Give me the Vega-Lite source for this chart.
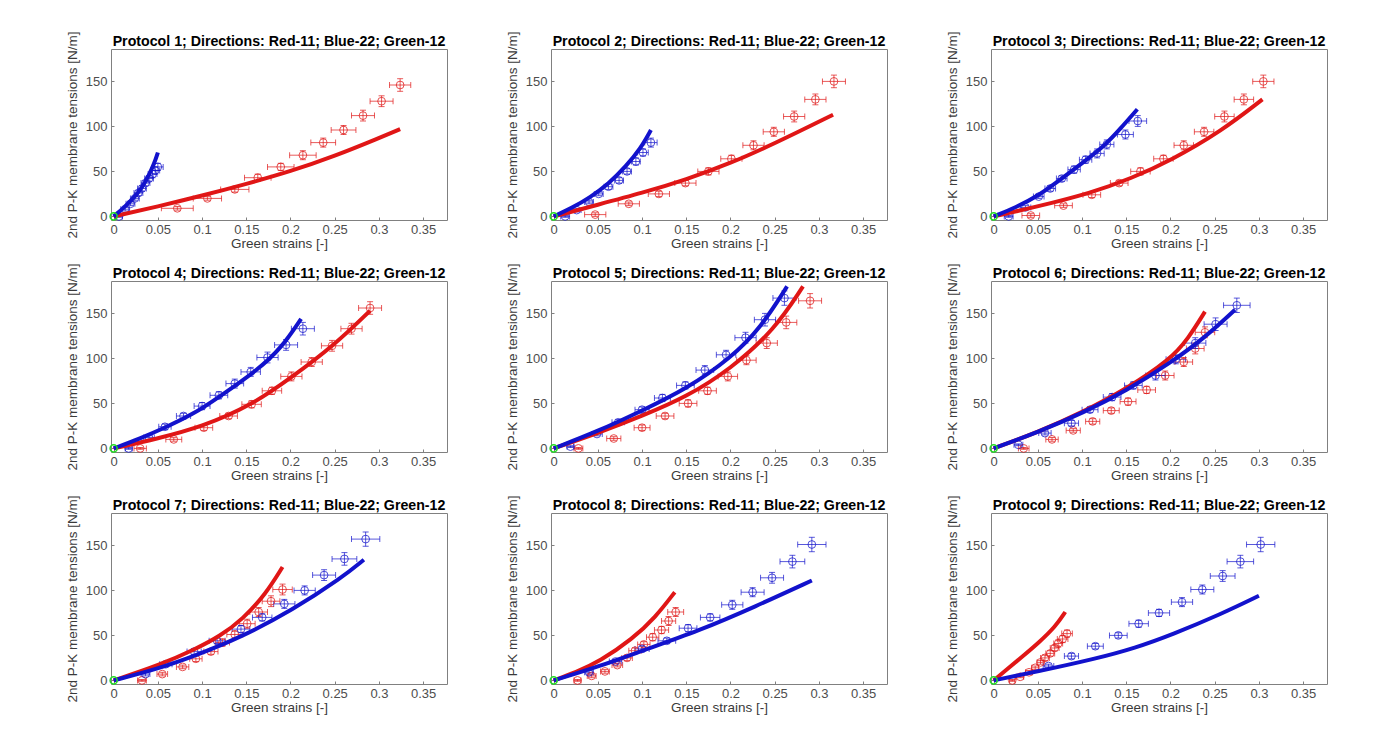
{
  "$schema": "https://vega.github.io/schema/vega-lite/v6.json",
  "background": "white",
  "padding": {"left": 64, "top": 30, "right": 5, "bottom": 5},
  "data": {"values": [
    {"p":1,"k":"pt","d":"11","x":0.072,"y":9,"ex":0.018,"ey":2},
    {"p":1,"k":"pt","d":"11","x":0.106,"y":20,"ex":0.016,"ey":2},
    {"p":1,"k":"pt","d":"11","x":0.137,"y":30,"ex":0.016,"ey":3},
    {"p":1,"k":"pt","d":"11","x":0.163,"y":43,"ex":0.015,"ey":4},
    {"p":1,"k":"pt","d":"11","x":0.189,"y":55,"ex":0.015,"ey":4},
    {"p":1,"k":"pt","d":"11","x":0.214,"y":68,"ex":0.015,"ey":5},
    {"p":1,"k":"pt","d":"11","x":0.237,"y":82,"ex":0.014,"ey":5},
    {"p":1,"k":"pt","d":"11","x":0.260,"y":96,"ex":0.014,"ey":5},
    {"p":1,"k":"pt","d":"11","x":0.282,"y":112,"ex":0.013,"ey":6},
    {"p":1,"k":"pt","d":"11","x":0.303,"y":128,"ex":0.013,"ey":6},
    {"p":1,"k":"pt","d":"11","x":0.324,"y":146,"ex":0.012,"ey":7},
    {"p":1,"k":"pt","d":"22","x":0.006,"y":0,"ex":0.004,"ey":1},
    {"p":1,"k":"pt","d":"22","x":0.013,"y":8,"ex":0.005,"ey":2},
    {"p":1,"k":"pt","d":"22","x":0.019,"y":14,"ex":0.005,"ey":2},
    {"p":1,"k":"pt","d":"22","x":0.024,"y":20,"ex":0.005,"ey":2},
    {"p":1,"k":"pt","d":"22","x":0.028,"y":26,"ex":0.005,"ey":3},
    {"p":1,"k":"pt","d":"22","x":0.032,"y":31,"ex":0.005,"ey":3},
    {"p":1,"k":"pt","d":"22","x":0.036,"y":37,"ex":0.005,"ey":3},
    {"p":1,"k":"pt","d":"22","x":0.040,"y":42,"ex":0.005,"ey":3},
    {"p":1,"k":"pt","d":"22","x":0.044,"y":47,"ex":0.005,"ey":4},
    {"p":1,"k":"pt","d":"22","x":0.047,"y":51,"ex":0.005,"ey":4},
    {"p":1,"k":"pt","d":"22","x":0.050,"y":55,"ex":0.006,"ey":4},
    {"p":1,"k":"fit","d":"11","x":0,"y":0},
    {"p":1,"k":"fit","d":"11","x":0.05,"y":11},
    {"p":1,"k":"fit","d":"11","x":0.1,"y":23},
    {"p":1,"k":"fit","d":"11","x":0.15,"y":36},
    {"p":1,"k":"fit","d":"11","x":0.2,"y":50},
    {"p":1,"k":"fit","d":"11","x":0.25,"y":67},
    {"p":1,"k":"fit","d":"11","x":0.3,"y":87},
    {"p":1,"k":"fit","d":"11","x":0.324,"y":97},
    {"p":1,"k":"fit","d":"22","x":0,"y":0},
    {"p":1,"k":"fit","d":"22","x":0.012,"y":10},
    {"p":1,"k":"fit","d":"22","x":0.024,"y":22},
    {"p":1,"k":"fit","d":"22","x":0.032,"y":32},
    {"p":1,"k":"fit","d":"22","x":0.039,"y":44},
    {"p":1,"k":"fit","d":"22","x":0.046,"y":59},
    {"p":1,"k":"fit","d":"22","x":0.050,"y":71},
    {"p":1,"k":"org","d":"12","x":0,"y":0},

    {"p":2,"k":"pt","d":"11","x":0.047,"y":2,"ex":0.012,"ey":2},
    {"p":2,"k":"pt","d":"11","x":0.085,"y":14,"ex":0.012,"ey":2},
    {"p":2,"k":"pt","d":"11","x":0.119,"y":25,"ex":0.012,"ey":3},
    {"p":2,"k":"pt","d":"11","x":0.149,"y":37,"ex":0.012,"ey":3},
    {"p":2,"k":"pt","d":"11","x":0.175,"y":50,"ex":0.012,"ey":4},
    {"p":2,"k":"pt","d":"11","x":0.201,"y":64,"ex":0.012,"ey":4},
    {"p":2,"k":"pt","d":"11","x":0.226,"y":79,"ex":0.012,"ey":5},
    {"p":2,"k":"pt","d":"11","x":0.249,"y":94,"ex":0.012,"ey":5},
    {"p":2,"k":"pt","d":"11","x":0.272,"y":111,"ex":0.012,"ey":6},
    {"p":2,"k":"pt","d":"11","x":0.296,"y":130,"ex":0.012,"ey":6},
    {"p":2,"k":"pt","d":"11","x":0.317,"y":150,"ex":0.013,"ey":7},
    {"p":2,"k":"pt","d":"22","x":0.013,"y":0,"ex":0.005,"ey":1},
    {"p":2,"k":"pt","d":"22","x":0.026,"y":7,"ex":0.005,"ey":2},
    {"p":2,"k":"pt","d":"22","x":0.040,"y":16,"ex":0.005,"ey":2},
    {"p":2,"k":"pt","d":"22","x":0.051,"y":25,"ex":0.005,"ey":2},
    {"p":2,"k":"pt","d":"22","x":0.062,"y":33,"ex":0.005,"ey":3},
    {"p":2,"k":"pt","d":"22","x":0.074,"y":40,"ex":0.005,"ey":3},
    {"p":2,"k":"pt","d":"22","x":0.083,"y":50,"ex":0.005,"ey":3},
    {"p":2,"k":"pt","d":"22","x":0.093,"y":61,"ex":0.005,"ey":4},
    {"p":2,"k":"pt","d":"22","x":0.101,"y":71,"ex":0.006,"ey":4},
    {"p":2,"k":"pt","d":"22","x":0.110,"y":82,"ex":0.007,"ey":5},
    {"p":2,"k":"fit","d":"11","x":0,"y":0},
    {"p":2,"k":"fit","d":"11","x":0.05,"y":13},
    {"p":2,"k":"fit","d":"11","x":0.1,"y":26},
    {"p":2,"k":"fit","d":"11","x":0.15,"y":41},
    {"p":2,"k":"fit","d":"11","x":0.2,"y":59},
    {"p":2,"k":"fit","d":"11","x":0.25,"y":81},
    {"p":2,"k":"fit","d":"11","x":0.316,"y":113},
    {"p":2,"k":"fit","d":"22","x":0,"y":0},
    {"p":2,"k":"fit","d":"22","x":0.02,"y":9},
    {"p":2,"k":"fit","d":"22","x":0.041,"y":21},
    {"p":2,"k":"fit","d":"22","x":0.062,"y":36},
    {"p":2,"k":"fit","d":"22","x":0.082,"y":56},
    {"p":2,"k":"fit","d":"22","x":0.098,"y":75},
    {"p":2,"k":"fit","d":"22","x":0.110,"y":96},
    {"p":2,"k":"org","d":"12","x":0,"y":0},

    {"p":3,"k":"pt","d":"11","x":0.042,"y":1,"ex":0.010,"ey":2},
    {"p":3,"k":"pt","d":"11","x":0.079,"y":12,"ex":0.010,"ey":2},
    {"p":3,"k":"pt","d":"11","x":0.111,"y":24,"ex":0.010,"ey":3},
    {"p":3,"k":"pt","d":"11","x":0.142,"y":37,"ex":0.010,"ey":3},
    {"p":3,"k":"pt","d":"11","x":0.166,"y":50,"ex":0.011,"ey":4},
    {"p":3,"k":"pt","d":"11","x":0.192,"y":64,"ex":0.011,"ey":4},
    {"p":3,"k":"pt","d":"11","x":0.215,"y":79,"ex":0.011,"ey":5},
    {"p":3,"k":"pt","d":"11","x":0.238,"y":94,"ex":0.011,"ey":5},
    {"p":3,"k":"pt","d":"11","x":0.261,"y":111,"ex":0.011,"ey":6},
    {"p":3,"k":"pt","d":"11","x":0.283,"y":130,"ex":0.011,"ey":6},
    {"p":3,"k":"pt","d":"11","x":0.305,"y":150,"ex":0.012,"ey":7},
    {"p":3,"k":"pt","d":"22","x":0.017,"y":0,"ex":0.005,"ey":1},
    {"p":3,"k":"pt","d":"22","x":0.036,"y":10,"ex":0.006,"ey":2},
    {"p":3,"k":"pt","d":"22","x":0.051,"y":22,"ex":0.006,"ey":2},
    {"p":3,"k":"pt","d":"22","x":0.064,"y":31,"ex":0.006,"ey":3},
    {"p":3,"k":"pt","d":"22","x":0.077,"y":42,"ex":0.006,"ey":3},
    {"p":3,"k":"pt","d":"22","x":0.091,"y":52,"ex":0.007,"ey":4},
    {"p":3,"k":"pt","d":"22","x":0.104,"y":63,"ex":0.007,"ey":4},
    {"p":3,"k":"pt","d":"22","x":0.117,"y":70,"ex":0.008,"ey":5},
    {"p":3,"k":"pt","d":"22","x":0.128,"y":80,"ex":0.008,"ey":5},
    {"p":3,"k":"pt","d":"22","x":0.149,"y":91,"ex":0.009,"ey":5},
    {"p":3,"k":"pt","d":"22","x":0.163,"y":106,"ex":0.010,"ey":6},
    {"p":3,"k":"fit","d":"11","x":0,"y":0},
    {"p":3,"k":"fit","d":"11","x":0.05,"y":11},
    {"p":3,"k":"fit","d":"11","x":0.11,"y":26},
    {"p":3,"k":"fit","d":"11","x":0.155,"y":42},
    {"p":3,"k":"fit","d":"11","x":0.2,"y":62},
    {"p":3,"k":"fit","d":"11","x":0.258,"y":95},
    {"p":3,"k":"fit","d":"11","x":0.304,"y":130},
    {"p":3,"k":"fit","d":"22","x":0,"y":0},
    {"p":3,"k":"fit","d":"22","x":0.025,"y":10},
    {"p":3,"k":"fit","d":"22","x":0.051,"y":23},
    {"p":3,"k":"fit","d":"22","x":0.077,"y":42},
    {"p":3,"k":"fit","d":"22","x":0.104,"y":62},
    {"p":3,"k":"fit","d":"22","x":0.127,"y":80},
    {"p":3,"k":"fit","d":"22","x":0.142,"y":96},
    {"p":3,"k":"fit","d":"22","x":0.1625,"y":119},
    {"p":3,"k":"org","d":"12","x":0,"y":0},

    {"p":4,"k":"pt","d":"11","x":0.030,"y":0,"ex":0.007,"ey":1},
    {"p":4,"k":"pt","d":"11","x":0.068,"y":10,"ex":0.009,"ey":2},
    {"p":4,"k":"pt","d":"11","x":0.102,"y":23,"ex":0.010,"ey":3},
    {"p":4,"k":"pt","d":"11","x":0.130,"y":36,"ex":0.010,"ey":3},
    {"p":4,"k":"pt","d":"11","x":0.156,"y":49,"ex":0.011,"ey":4},
    {"p":4,"k":"pt","d":"11","x":0.179,"y":64,"ex":0.011,"ey":4},
    {"p":4,"k":"pt","d":"11","x":0.201,"y":80,"ex":0.012,"ey":5},
    {"p":4,"k":"pt","d":"11","x":0.224,"y":96,"ex":0.012,"ey":5},
    {"p":4,"k":"pt","d":"11","x":0.247,"y":114,"ex":0.012,"ey":6},
    {"p":4,"k":"pt","d":"11","x":0.269,"y":133,"ex":0.012,"ey":6},
    {"p":4,"k":"pt","d":"11","x":0.290,"y":156,"ex":0.013,"ey":7},
    {"p":4,"k":"pt","d":"22","x":0.017,"y":0,"ex":0.004,"ey":1},
    {"p":4,"k":"pt","d":"22","x":0.040,"y":12,"ex":0.006,"ey":2},
    {"p":4,"k":"pt","d":"22","x":0.058,"y":24,"ex":0.007,"ey":3},
    {"p":4,"k":"pt","d":"22","x":0.079,"y":36,"ex":0.008,"ey":3},
    {"p":4,"k":"pt","d":"22","x":0.100,"y":47,"ex":0.009,"ey":4},
    {"p":4,"k":"pt","d":"22","x":0.119,"y":59,"ex":0.010,"ey":4},
    {"p":4,"k":"pt","d":"22","x":0.137,"y":72,"ex":0.010,"ey":5},
    {"p":4,"k":"pt","d":"22","x":0.155,"y":85,"ex":0.011,"ey":5},
    {"p":4,"k":"pt","d":"22","x":0.174,"y":101,"ex":0.012,"ey":6},
    {"p":4,"k":"pt","d":"22","x":0.195,"y":115,"ex":0.013,"ey":6},
    {"p":4,"k":"pt","d":"22","x":0.214,"y":133,"ex":0.013,"ey":7},
    {"p":4,"k":"fit","d":"11","x":0,"y":0},
    {"p":4,"k":"fit","d":"11","x":0.05,"y":11},
    {"p":4,"k":"fit","d":"11","x":0.1,"y":24},
    {"p":4,"k":"fit","d":"11","x":0.156,"y":48},
    {"p":4,"k":"fit","d":"11","x":0.2,"y":78},
    {"p":4,"k":"fit","d":"11","x":0.25,"y":115},
    {"p":4,"k":"fit","d":"11","x":0.29,"y":153},
    {"p":4,"k":"fit","d":"22","x":0,"y":0},
    {"p":4,"k":"fit","d":"22","x":0.03,"y":11},
    {"p":4,"k":"fit","d":"22","x":0.058,"y":23},
    {"p":4,"k":"fit","d":"22","x":0.09,"y":38},
    {"p":4,"k":"fit","d":"22","x":0.119,"y":57},
    {"p":4,"k":"fit","d":"22","x":0.164,"y":88},
    {"p":4,"k":"fit","d":"22","x":0.19,"y":112},
    {"p":4,"k":"fit","d":"22","x":0.212,"y":144},
    {"p":4,"k":"org","d":"12","x":0,"y":0},

    {"p":5,"k":"pt","d":"11","x":0.028,"y":0,"ex":0.005,"ey":1},
    {"p":5,"k":"pt","d":"11","x":0.068,"y":11,"ex":0.008,"ey":2},
    {"p":5,"k":"pt","d":"11","x":0.100,"y":23,"ex":0.009,"ey":3},
    {"p":5,"k":"pt","d":"11","x":0.126,"y":36,"ex":0.010,"ey":3},
    {"p":5,"k":"pt","d":"11","x":0.152,"y":50,"ex":0.010,"ey":4},
    {"p":5,"k":"pt","d":"11","x":0.174,"y":64,"ex":0.010,"ey":4},
    {"p":5,"k":"pt","d":"11","x":0.197,"y":80,"ex":0.011,"ey":5},
    {"p":5,"k":"pt","d":"11","x":0.218,"y":98,"ex":0.011,"ey":5},
    {"p":5,"k":"pt","d":"11","x":0.241,"y":117,"ex":0.012,"ey":6},
    {"p":5,"k":"pt","d":"11","x":0.263,"y":140,"ex":0.012,"ey":7},
    {"p":5,"k":"pt","d":"11","x":0.290,"y":164,"ex":0.013,"ey":8},
    {"p":5,"k":"pt","d":"22","x":0.019,"y":2,"ex":0.004,"ey":1},
    {"p":5,"k":"pt","d":"22","x":0.049,"y":16,"ex":0.006,"ey":2},
    {"p":5,"k":"pt","d":"22","x":0.073,"y":29,"ex":0.007,"ey":3},
    {"p":5,"k":"pt","d":"22","x":0.100,"y":43,"ex":0.008,"ey":3},
    {"p":5,"k":"pt","d":"22","x":0.123,"y":56,"ex":0.009,"ey":4},
    {"p":5,"k":"pt","d":"22","x":0.149,"y":70,"ex":0.010,"ey":4},
    {"p":5,"k":"pt","d":"22","x":0.171,"y":87,"ex":0.010,"ey":5},
    {"p":5,"k":"pt","d":"22","x":0.195,"y":104,"ex":0.011,"ey":5},
    {"p":5,"k":"pt","d":"22","x":0.217,"y":123,"ex":0.012,"ey":6},
    {"p":5,"k":"pt","d":"22","x":0.239,"y":143,"ex":0.012,"ey":7},
    {"p":5,"k":"pt","d":"22","x":0.261,"y":167,"ex":0.013,"ey":8},
    {"p":5,"k":"fit","d":"11","x":0,"y":0},
    {"p":5,"k":"fit","d":"11","x":0.05,"y":17},
    {"p":5,"k":"fit","d":"11","x":0.1,"y":36},
    {"p":5,"k":"fit","d":"11","x":0.15,"y":57},
    {"p":5,"k":"fit","d":"11","x":0.2,"y":88},
    {"p":5,"k":"fit","d":"11","x":0.25,"y":132},
    {"p":5,"k":"fit","d":"11","x":0.282,"y":180},
    {"p":5,"k":"fit","d":"22","x":0,"y":0},
    {"p":5,"k":"fit","d":"22","x":0.05,"y":19},
    {"p":5,"k":"fit","d":"22","x":0.1,"y":42},
    {"p":5,"k":"fit","d":"22","x":0.15,"y":66},
    {"p":5,"k":"fit","d":"22","x":0.2,"y":100},
    {"p":5,"k":"fit","d":"22","x":0.235,"y":135},
    {"p":5,"k":"fit","d":"22","x":0.264,"y":180},
    {"p":5,"k":"org","d":"12","x":0,"y":0},

    {"p":6,"k":"pt","d":"11","x":0.034,"y":0,"ex":0.006,"ey":1},
    {"p":6,"k":"pt","d":"11","x":0.066,"y":10,"ex":0.007,"ey":2},
    {"p":6,"k":"pt","d":"11","x":0.090,"y":20,"ex":0.008,"ey":2},
    {"p":6,"k":"pt","d":"11","x":0.112,"y":30,"ex":0.008,"ey":3},
    {"p":6,"k":"pt","d":"11","x":0.133,"y":42,"ex":0.009,"ey":3},
    {"p":6,"k":"pt","d":"11","x":0.152,"y":52,"ex":0.009,"ey":4},
    {"p":6,"k":"pt","d":"11","x":0.173,"y":65,"ex":0.010,"ey":4},
    {"p":6,"k":"pt","d":"11","x":0.194,"y":81,"ex":0.010,"ey":5},
    {"p":6,"k":"pt","d":"11","x":0.215,"y":96,"ex":0.010,"ey":5},
    {"p":6,"k":"pt","d":"11","x":0.228,"y":111,"ex":0.010,"ey":6},
    {"p":6,"k":"pt","d":"11","x":0.239,"y":129,"ex":0.011,"ey":6},
    {"p":6,"k":"pt","d":"22","x":0.028,"y":4,"ex":0.005,"ey":1},
    {"p":6,"k":"pt","d":"22","x":0.058,"y":17,"ex":0.007,"ey":2},
    {"p":6,"k":"pt","d":"22","x":0.088,"y":28,"ex":0.008,"ey":3},
    {"p":6,"k":"pt","d":"22","x":0.109,"y":43,"ex":0.009,"ey":3},
    {"p":6,"k":"pt","d":"22","x":0.134,"y":57,"ex":0.010,"ey":4},
    {"p":6,"k":"pt","d":"22","x":0.158,"y":70,"ex":0.010,"ey":4},
    {"p":6,"k":"pt","d":"22","x":0.183,"y":81,"ex":0.011,"ey":5},
    {"p":6,"k":"pt","d":"22","x":0.206,"y":99,"ex":0.011,"ey":5},
    {"p":6,"k":"pt","d":"22","x":0.228,"y":117,"ex":0.012,"ey":6},
    {"p":6,"k":"pt","d":"22","x":0.251,"y":138,"ex":0.013,"ey":7},
    {"p":6,"k":"pt","d":"22","x":0.275,"y":159,"ex":0.015,"ey":8},
    {"p":6,"k":"fit","d":"11","x":0,"y":0},
    {"p":6,"k":"fit","d":"11","x":0.05,"y":18},
    {"p":6,"k":"fit","d":"11","x":0.1,"y":40},
    {"p":6,"k":"fit","d":"11","x":0.15,"y":66},
    {"p":6,"k":"fit","d":"11","x":0.2,"y":99},
    {"p":6,"k":"fit","d":"11","x":0.22,"y":122},
    {"p":6,"k":"fit","d":"11","x":0.239,"y":152},
    {"p":6,"k":"fit","d":"22","x":0,"y":0},
    {"p":6,"k":"fit","d":"22","x":0.05,"y":18},
    {"p":6,"k":"fit","d":"22","x":0.102,"y":40},
    {"p":6,"k":"fit","d":"22","x":0.15,"y":64},
    {"p":6,"k":"fit","d":"22","x":0.2,"y":95},
    {"p":6,"k":"fit","d":"22","x":0.24,"y":124},
    {"p":6,"k":"fit","d":"22","x":0.273,"y":154},
    {"p":6,"k":"org","d":"12","x":0,"y":0},

    {"p":7,"k":"pt","d":"11","x":0.032,"y":0,"ex":0.005,"ey":1},
    {"p":7,"k":"pt","d":"11","x":0.055,"y":7,"ex":0.006,"ey":2},
    {"p":7,"k":"pt","d":"11","x":0.078,"y":15,"ex":0.007,"ey":2},
    {"p":7,"k":"pt","d":"11","x":0.093,"y":24,"ex":0.007,"ey":3},
    {"p":7,"k":"pt","d":"11","x":0.110,"y":32,"ex":0.008,"ey":3},
    {"p":7,"k":"pt","d":"11","x":0.123,"y":42,"ex":0.008,"ey":4},
    {"p":7,"k":"pt","d":"11","x":0.137,"y":51,"ex":0.009,"ey":4},
    {"p":7,"k":"pt","d":"11","x":0.151,"y":63,"ex":0.009,"ey":5},
    {"p":7,"k":"pt","d":"11","x":0.164,"y":76,"ex":0.010,"ey":5},
    {"p":7,"k":"pt","d":"11","x":0.178,"y":88,"ex":0.010,"ey":6},
    {"p":7,"k":"pt","d":"11","x":0.191,"y":101,"ex":0.011,"ey":6},
    {"p":7,"k":"pt","d":"22","x":0.036,"y":7,"ex":0.005,"ey":2},
    {"p":7,"k":"pt","d":"22","x":0.059,"y":18,"ex":0.007,"ey":2},
    {"p":7,"k":"pt","d":"22","x":0.091,"y":32,"ex":0.008,"ey":3},
    {"p":7,"k":"pt","d":"22","x":0.117,"y":44,"ex":0.009,"ey":3},
    {"p":7,"k":"pt","d":"22","x":0.144,"y":57,"ex":0.010,"ey":4},
    {"p":7,"k":"pt","d":"22","x":0.168,"y":70,"ex":0.011,"ey":4},
    {"p":7,"k":"pt","d":"22","x":0.193,"y":85,"ex":0.012,"ey":5},
    {"p":7,"k":"pt","d":"22","x":0.216,"y":100,"ex":0.012,"ey":5},
    {"p":7,"k":"pt","d":"22","x":0.238,"y":117,"ex":0.013,"ey":6},
    {"p":7,"k":"pt","d":"22","x":0.261,"y":135,"ex":0.014,"ey":7},
    {"p":7,"k":"pt","d":"22","x":0.285,"y":157,"ex":0.016,"ey":8},
    {"p":7,"k":"fit","d":"11","x":0,"y":0},
    {"p":7,"k":"fit","d":"11","x":0.052,"y":17},
    {"p":7,"k":"fit","d":"11","x":0.093,"y":35},
    {"p":7,"k":"fit","d":"11","x":0.12,"y":49},
    {"p":7,"k":"fit","d":"11","x":0.146,"y":68},
    {"p":7,"k":"fit","d":"11","x":0.172,"y":96},
    {"p":7,"k":"fit","d":"11","x":0.191,"y":126},
    {"p":7,"k":"fit","d":"22","x":0,"y":0},
    {"p":7,"k":"fit","d":"22","x":0.05,"y":13},
    {"p":7,"k":"fit","d":"22","x":0.091,"y":27},
    {"p":7,"k":"fit","d":"22","x":0.144,"y":48},
    {"p":7,"k":"fit","d":"22","x":0.202,"y":78},
    {"p":7,"k":"fit","d":"22","x":0.258,"y":114},
    {"p":7,"k":"fit","d":"22","x":0.283,"y":134},
    {"p":7,"k":"org","d":"12","x":0,"y":0},

    {"p":8,"k":"pt","d":"11","x":0.027,"y":0,"ex":0.004,"ey":1},
    {"p":8,"k":"pt","d":"11","x":0.043,"y":5,"ex":0.005,"ey":2},
    {"p":8,"k":"pt","d":"11","x":0.058,"y":10,"ex":0.005,"ey":2},
    {"p":8,"k":"pt","d":"11","x":0.072,"y":17,"ex":0.006,"ey":2},
    {"p":8,"k":"pt","d":"11","x":0.083,"y":25,"ex":0.006,"ey":3},
    {"p":8,"k":"pt","d":"11","x":0.092,"y":33,"ex":0.007,"ey":3},
    {"p":8,"k":"pt","d":"11","x":0.102,"y":40,"ex":0.007,"ey":3},
    {"p":8,"k":"pt","d":"11","x":0.112,"y":48,"ex":0.007,"ey":4},
    {"p":8,"k":"pt","d":"11","x":0.122,"y":56,"ex":0.008,"ey":4},
    {"p":8,"k":"pt","d":"11","x":0.130,"y":66,"ex":0.008,"ey":5},
    {"p":8,"k":"pt","d":"11","x":0.138,"y":76,"ex":0.009,"ey":5},
    {"p":8,"k":"pt","d":"22","x":0.040,"y":9,"ex":0.005,"ey":2},
    {"p":8,"k":"pt","d":"22","x":0.070,"y":21,"ex":0.007,"ey":2},
    {"p":8,"k":"pt","d":"22","x":0.100,"y":35,"ex":0.008,"ey":3},
    {"p":8,"k":"pt","d":"22","x":0.128,"y":44,"ex":0.010,"ey":3},
    {"p":8,"k":"pt","d":"22","x":0.152,"y":58,"ex":0.010,"ey":4},
    {"p":8,"k":"pt","d":"22","x":0.177,"y":70,"ex":0.011,"ey":4},
    {"p":8,"k":"pt","d":"22","x":0.202,"y":84,"ex":0.012,"ey":5},
    {"p":8,"k":"pt","d":"22","x":0.225,"y":98,"ex":0.013,"ey":5},
    {"p":8,"k":"pt","d":"22","x":0.247,"y":114,"ex":0.013,"ey":6},
    {"p":8,"k":"pt","d":"22","x":0.270,"y":132,"ex":0.014,"ey":7},
    {"p":8,"k":"pt","d":"22","x":0.292,"y":151,"ex":0.016,"ey":8},
    {"p":8,"k":"fit","d":"11","x":0,"y":0},
    {"p":8,"k":"fit","d":"11","x":0.025,"y":9},
    {"p":8,"k":"fit","d":"11","x":0.052,"y":21},
    {"p":8,"k":"fit","d":"11","x":0.089,"y":46},
    {"p":8,"k":"fit","d":"11","x":0.115,"y":70},
    {"p":8,"k":"fit","d":"11","x":0.137,"y":98},
    {"p":8,"k":"fit","d":"22","x":0,"y":0},
    {"p":8,"k":"fit","d":"22","x":0.05,"y":15},
    {"p":8,"k":"fit","d":"22","x":0.1,"y":33},
    {"p":8,"k":"fit","d":"22","x":0.164,"y":55},
    {"p":8,"k":"fit","d":"22","x":0.228,"y":82},
    {"p":8,"k":"fit","d":"22","x":0.292,"y":111},
    {"p":8,"k":"org","d":"12","x":0,"y":0},

    {"p":9,"k":"pt","d":"11","x":0.021,"y":0,"ex":0.003,"ey":1},
    {"p":9,"k":"pt","d":"11","x":0.030,"y":4,"ex":0.004,"ey":1},
    {"p":9,"k":"pt","d":"11","x":0.040,"y":9,"ex":0.004,"ey":2},
    {"p":9,"k":"pt","d":"11","x":0.047,"y":14,"ex":0.004,"ey":2},
    {"p":9,"k":"pt","d":"11","x":0.053,"y":20,"ex":0.004,"ey":2},
    {"p":9,"k":"pt","d":"11","x":0.058,"y":25,"ex":0.005,"ey":3},
    {"p":9,"k":"pt","d":"11","x":0.064,"y":30,"ex":0.005,"ey":3},
    {"p":9,"k":"pt","d":"11","x":0.069,"y":36,"ex":0.005,"ey":3},
    {"p":9,"k":"pt","d":"11","x":0.073,"y":41,"ex":0.005,"ey":4},
    {"p":9,"k":"pt","d":"11","x":0.078,"y":46,"ex":0.006,"ey":4},
    {"p":9,"k":"pt","d":"11","x":0.083,"y":52,"ex":0.006,"ey":4},
    {"p":9,"k":"pt","d":"22","x":0.062,"y":16,"ex":0.006,"ey":2},
    {"p":9,"k":"pt","d":"22","x":0.088,"y":27,"ex":0.008,"ey":3},
    {"p":9,"k":"pt","d":"22","x":0.115,"y":38,"ex":0.009,"ey":3},
    {"p":9,"k":"pt","d":"22","x":0.141,"y":50,"ex":0.010,"ey":3},
    {"p":9,"k":"pt","d":"22","x":0.164,"y":63,"ex":0.011,"ey":4},
    {"p":9,"k":"pt","d":"22","x":0.187,"y":75,"ex":0.012,"ey":4},
    {"p":9,"k":"pt","d":"22","x":0.213,"y":87,"ex":0.012,"ey":5},
    {"p":9,"k":"pt","d":"22","x":0.236,"y":101,"ex":0.013,"ey":5},
    {"p":9,"k":"pt","d":"22","x":0.259,"y":116,"ex":0.014,"ey":6},
    {"p":9,"k":"pt","d":"22","x":0.279,"y":132,"ex":0.015,"ey":7},
    {"p":9,"k":"pt","d":"22","x":0.302,"y":151,"ex":0.016,"ey":8},
    {"p":9,"k":"fit","d":"11","x":0,"y":0},
    {"p":9,"k":"fit","d":"11","x":0.016,"y":13},
    {"p":9,"k":"fit","d":"11","x":0.033,"y":27},
    {"p":9,"k":"fit","d":"11","x":0.051,"y":42},
    {"p":9,"k":"fit","d":"11","x":0.070,"y":60},
    {"p":9,"k":"fit","d":"11","x":0.081,"y":76},
    {"p":9,"k":"fit","d":"22","x":0,"y":0},
    {"p":9,"k":"fit","d":"22","x":0.05,"y":10},
    {"p":9,"k":"fit","d":"22","x":0.115,"y":24},
    {"p":9,"k":"fit","d":"22","x":0.16,"y":36},
    {"p":9,"k":"fit","d":"22","x":0.202,"y":51},
    {"p":9,"k":"fit","d":"22","x":0.258,"y":74},
    {"p":9,"k":"fit","d":"22","x":0.300,"y":94},
    {"p":9,"k":"org","d":"12","x":0,"y":0}
  ]},
  "columns": 3,
  "bounds": "flush",
  "spacing": {"row": 61, "column": 104},
  "facet": {
    "field": "p",
    "type": "ordinal",
    "header": {
      "title": null,
      "labelExpr": "'Protocol ' + datum.value + '; Directions: Red-11; Blue-22; Green-12'",
      "labelFont": "Liberation Sans",
      "labelFontSize": 14.2,
      "labelFontWeight": "bold",
      "labelColor": "#000000",
      "labelPadding": -18
    }
  },
  "resolve": {"axis": {"x": "independent", "y": "independent"}},
  "spec": {
    "width": 336,
    "height": 171,
    "encoding": {
      "x": {
        "field": "x",
        "type": "quantitative",
        "scale": {"domain": [-0.003, 0.377], "nice": false, "zero": false},
        "axis": {"title": "Green strains [-]", "values": [0, 0.05, 0.1, 0.15, 0.2, 0.25, 0.3, 0.35], "format": "~g"}
      },
      "y": {
        "field": "y",
        "type": "quantitative",
        "scale": {"domain": [-4, 186], "nice": false, "zero": false},
        "axis": {"title": "2nd P-K membrane tensions [N/m]", "values": [0, 50, 100, 150]}
      },
      "color": {
        "field": "d",
        "type": "nominal",
        "scale": {"domain": ["11", "22", "12"], "range": ["#e01616", "#1212cc", "#22dd22"]},
        "legend": null
      }
    },
    "layer": [
      {
        "transform": [{"filter": "datum.k === 'pt'"}],
        "mark": {"type": "errorbar", "ticks": {"size": 6}, "thickness": 1, "opacity": 0.7},
        "encoding": {"xError": {"field": "ex"}}
      },
      {
        "transform": [{"filter": "datum.k === 'pt'"}],
        "mark": {"type": "errorbar", "ticks": {"size": 6}, "thickness": 1, "opacity": 0.7},
        "encoding": {"yError": {"field": "ey"}}
      },
      {
        "transform": [{"filter": "datum.k === 'pt'"}],
        "mark": {"type": "point", "shape": "circle", "filled": false, "size": 60, "strokeWidth": 1, "opacity": 0.75}
      },
      {
        "transform": [{"filter": "datum.k === 'fit'"}],
        "mark": {"type": "line", "strokeWidth": 4, "interpolate": "basis"}
      },
      {
        "transform": [{"filter": "datum.k === 'org'"}],
        "mark": {"type": "point", "shape": "circle", "filled": false, "size": 50, "strokeWidth": 1.5, "opacity": 1}
      }
    ]
  },
  "config": {
    "font": "Liberation Sans",
    "view": {"stroke": "#808080", "strokeWidth": 1},
    "axis": {
      "domain": false,
      "grid": false,
      "ticks": true,
      "tickSize": -3,
      "tickColor": "#808080",
      "labelFont": "Liberation Sans",
      "labelFontSize": 13,
      "labelColor": "#4d4d4d",
      "titleFont": "Liberation Sans",
      "titleFontSize": 13.5,
      "titleFontWeight": "normal",
      "titleColor": "#3a3a3a"
    },
    "axisX": {"labelPadding": 6, "titlePadding": 0},
    "axisY": {"labelPadding": 7, "titlePadding": 6}
  }
}
